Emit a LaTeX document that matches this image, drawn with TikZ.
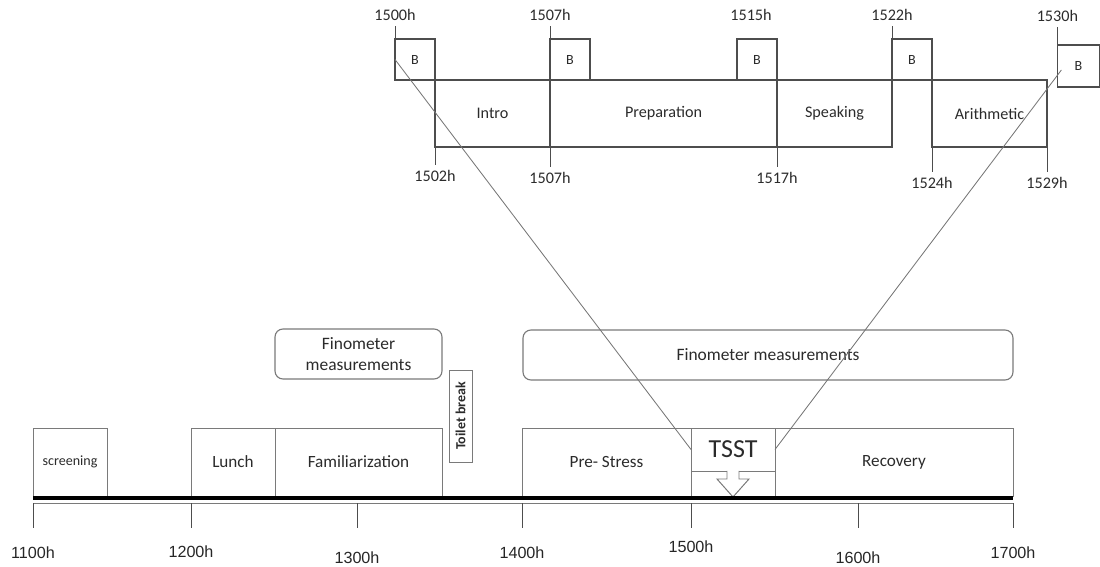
\documentclass[tikz,border=0pt]{standalone}
\usepackage{fontspec}
\setmainfont{Carlito}
\newfontfamily\axisfont{Liberation Sans}
\definecolor{textgray}{HTML}{2B2B2B}
\definecolor{linegray}{HTML}{4D4D4D}
\definecolor{boxgray}{HTML}{7A7A7A}
\definecolor{zoomgray}{HTML}{767676}
\begin{document}
\begin{tikzpicture}[
  seg/.style={draw=boxgray, line width=0.7pt, inner sep=0pt, outer sep=0pt, minimum height=1.7cm, text=textgray, font=\fontsize{12.2}{14}\selectfont},
  task/.style={draw=linegray, line width=0.9pt, inner sep=0pt, outer sep=0pt, minimum height=1.675cm, text=textgray, font=\fontsize{11.5}{13}\selectfont},
  bbox/.style={draw=linegray, line width=0.9pt, inner sep=0pt, outer sep=0pt, minimum width=1cm, minimum height=1.025cm, text=textgray, font=\fontsize{10}{12}\selectfont},
  meas/.style={draw=boxgray, line width=0.8pt, rounded corners=0.2cm, inner sep=0pt, minimum height=1.25cm, align=center, text=textgray, font=\fontsize{12.4}{14.5}\selectfont},
  hlabel/.style={text=textgray, font=\fontsize{11.5}{13}\selectfont},
  axlabel/.style={text=black!85, font=\axisfont\fontsize{11.5}{13}\selectfont},
  tickline/.style={draw=linegray, line width=0.7pt},
  zoomline/.style={draw=zoomgray, line width=0.6pt}
]
\useasboundingbox (0,0) rectangle (27.5,14.175);

% day time line
\node[seg, minimum width=1.85cm, font=\fontsize{10}{12}\selectfont] (screening) at (1.75,2.625) {screening};
\node[seg, minimum width=2.1cm] (lunch) at (5.825,2.625) {Lunch};
\node[seg, minimum width=4.175cm] (famil) at (8.9625,2.625) {Familiarization};
\node[seg, minimum width=4.225cm] (prestress) at (15.1625,2.625) {Pre- Stress};
\node[seg, minimum width=2.1cm, minimum height=1.075cm, font=\fontsize{18.5}{20}\selectfont] (tsst) at (18.325,2.9375) {TSST};
\node[seg, minimum width=5.95cm] (recovery) at (22.35,2.625) {Recovery};
\node[draw=boxgray, line width=0.7pt, rotate=90, inner sep=0pt, minimum width=2.3cm, minimum height=0.575cm, text=textgray, font=\bfseries\fontsize{9.9}{11}\selectfont] (toilet) at (11.5125,3.775) {Toilet break};
\node[meas, minimum width=4.175cm] (fino1) at (8.9625,5.325) {Finometer\\measurements};
\node[meas, minimum width=12.25cm] (fino2) at (19.2,5.3) {Finometer measurements};

% lower half of the TSST block with the arrow
\draw[draw=boxgray, line width=0.7pt] (tsst.south west) -- ++(0,-0.625);
\draw[draw=boxgray, line width=0.7pt] (tsst.south east) -- ++(0,-0.625);
\fill[white] ([xshift=-0.15cm,yshift=0.04cm]tsst.south) rectangle ([xshift=0.15cm,yshift=-0.04cm]tsst.south);
\draw[draw=boxgray, line width=0.7pt] ([xshift=-0.15cm]tsst.south) -- ++(0,-0.2) -- ++(-0.25,0) -- ++(0.4,-0.45) -- ++(0.4,0.45) -- ++(-0.25,0) -- ++(0,0.2);

% axis
\coordinate (axl) at (0.825,1.725);
\coordinate (axr) at (25.325,1.725);
\draw[line width=3.2pt] (axl) -- (axr);
\draw[draw=boxgray, line width=0.5pt] ([yshift=-0.13cm]axl) -- ([yshift=-0.13cm]axr);
\foreach \x/\t/\y [count=\i] in {0.825/1100h/0.35, 4.775/1200h/0.375, 8.925/1300h/0.22, 13.05/1400h/0.35, 17.275/1500h/0.5, 21.45/1600h/0.22, 25.325/1700h/0.35} {
  \draw[tickline] (\x,1.595) -- (\x,0.975);
  \node[axlabel] (ax\i) at (\x,\y) {\t};
}

% TSST in detail
\node[task, minimum width=2.875cm] (intro) at (12.3125,11.3375) {Intro};
\node[task, minimum width=5.675cm] (prep) at (16.5875,11.3375) {Preparation};
\node[task, minimum width=2.875cm] (speak) at (20.8625,11.3375) {Speaking};
\node[task, minimum width=2.875cm] (arith) at (24.7375,11.3375) {Arithmetic};
\node[bbox, anchor=south east] (b1) at (intro.north west) {B};
\node[bbox, anchor=south west] (b2) at (prep.north west) {B};
\node[bbox, anchor=south east] (b3) at (speak.north west) {B};
\node[bbox, anchor=south west] (b4) at (speak.north east) {B};
\node[bbox, minimum width=1.05cm, minimum height=1.05cm] (b5) at (26.96,12.525) {B};
\draw[draw=linegray, line width=1.3pt] (b1.south west) -- (arith.north east);

\node[hlabel] (l1500) at ([yshift=0.6cm]b1.north west) {1500h};
\node[hlabel] (l1507a) at ([yshift=0.6cm]b2.north west) {1507h};
\node[hlabel] (l1515) at ([xshift=-0.15cm,yshift=0.6cm]b3.north) {1515h};
\node[hlabel] (l1522) at ([yshift=0.6cm]b4.north west) {1522h};
\node[hlabel] (l1530) at ([yshift=0.725cm]b5.north west) {1530h};
\draw[tickline] (b1.north west) -- (l1500.south);
\draw[tickline] (b2.north west) -- (l1507a.south);
\draw[tickline] (b4.north west) -- (l1522.south);
\draw[tickline] (b5.north west) -- (l1530.south);

\node[hlabel] (l1502) at ([yshift=-0.725cm]intro.south west) {1502h};
\node[hlabel] (l1507b) at ([yshift=-0.775cm]prep.south west) {1507h};
\node[hlabel] (l1517) at ([yshift=-0.775cm]speak.south west) {1517h};
\node[hlabel] (l1524) at ([yshift=-0.9cm]arith.south west) {1524h};
\node[hlabel] (l1529) at ([yshift=-0.9cm]arith.south east) {1529h};
\draw[tickline] (intro.south west) -- (l1502.north);
\draw[tickline] (prep.south west) -- (l1507b.north);
\draw[tickline] (speak.south west) -- (l1517.north);
\draw[tickline] (arith.south west) -- (l1524.north);
\draw[tickline] (arith.south east) -- (l1529.north);

% zoom lines
\draw[zoomline] (b1.west) -- (tsst.west);
\draw[zoomline] ([xshift=0.1cm,yshift=-0.1cm]b5.west) -- (tsst.east);
\end{tikzpicture}
\end{document}
